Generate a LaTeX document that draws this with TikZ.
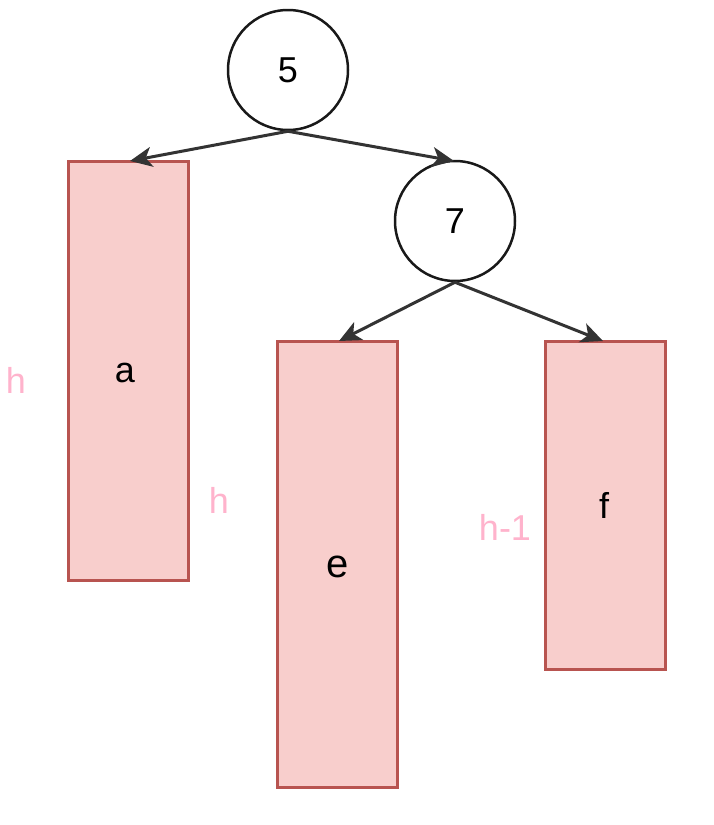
\documentclass[tikz,border=0pt]{standalone}
\usepackage{fontspec}
\setmainfont{Liberation Sans}
\usetikzlibrary{arrows.meta}
\definecolor{rfill}{HTML}{F8CECC}
\definecolor{rdraw}{HTML}{B85450}
\definecolor{plab}{HTML}{FFB3CC}
\tikzset{
  tnode/.style={circle,draw=black!90,line width=2.5pt,minimum size=120pt,inner sep=0pt,font=\fontsize{36}{42}\selectfont},
  sub/.style={rectangle,draw=rdraw,fill=rfill,line width=2.5pt,minimum width=120pt,inner sep=0pt},
  edge/.style={draw=black!80,line width=3pt,-{Stealth[length=22pt,width=20pt,inset=6pt]}},
  hlab/.style={text=plab,font=\fontsize{36}{42}\selectfont}
}
\begin{document}
\begin{tikzpicture}[x=1pt,y=-1pt]
\useasboundingbox (0,0) rectangle (714,825);
\node[tnode] (n5) at (288,70) {5};
\node[tnode] (n7) at (455,221) {7};
\node[sub,minimum height=419pt,anchor=north west] (a) at (67,160) {};
\node[sub,minimum height=446pt,anchor=north west] (e) at (276,340) {};
\node[sub,minimum height=328pt,anchor=north west] (f) at (544,340) {};
\node (ta) at (125,373) {\fontsize{36}{42}\selectfont a};
\node (te) at (338,567) {\fontsize{40}{46}\selectfont e};
\node (tf) at (604,505) {\fontsize{36}{42}\selectfont f};
\coordinate (ea) at (130,161);
\coordinate (e7) at (454,161);
\coordinate (ee) at (339,341);
\coordinate (ef) at (603,341);
\draw[edge] (n5.south) -- (ea);
\draw[edge] (n5.south) -- (e7);
\draw[edge] (n7.south) -- (ee);
\draw[edge] (n7.south) -- (ef);
\node[hlab] (h1) at (16,380) {h};
\node[hlab] (h2) at (219,500) {h};
\node[hlab] (h3) at (505,527) {h-1};
\end{tikzpicture}
\end{document}
